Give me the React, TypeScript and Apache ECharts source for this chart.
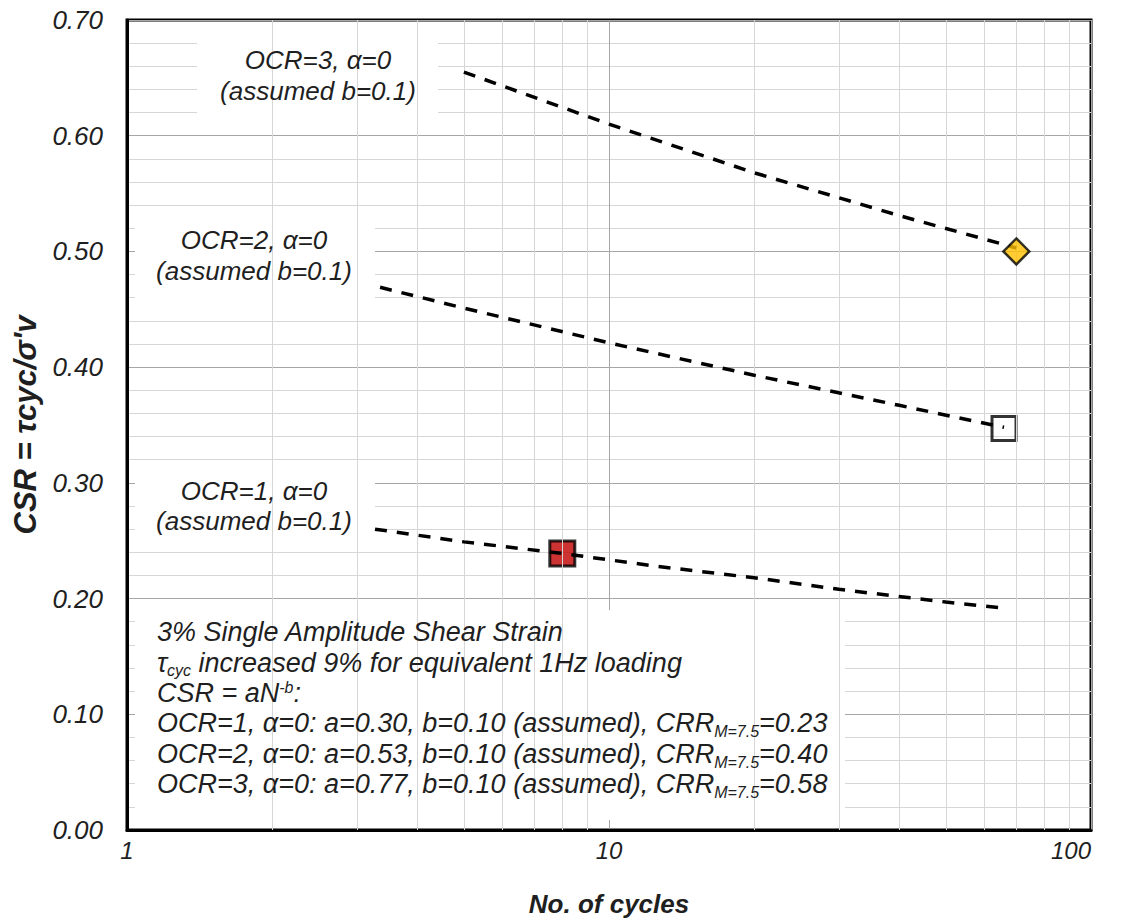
import React, { useEffect, useRef } from "react";
import * as echarts from "echarts";

// ---- data ----
const xTickLabels = ["1", "10", "100"];
const yTickLabels = ["0.00", "0.10", "0.20", "0.30", "0.40", "0.50", "0.60", "0.70"];
const minorXValues = [2, 3, 4, 5, 6, 7, 8, 9, 20, 30, 40, 50, 60, 70, 80, 90];

const ocr1Curve: [number, number][] = [
  [3.27, 0.26], [5, 0.249], [8, 0.239], [12.5, 0.228], [20, 0.218], [30, 0.208], [50, 0.197], [65, 0.192],
];
const ocr2Curve: [number, number][] = [
  [3.35, 0.469], [5, 0.451], [10, 0.421], [20, 0.393], [40, 0.367], [66, 0.348],
];
const ocr3Curve: [number, number][] = [
  [5, 0.655], [10, 0.61], [20, 0.568], [40, 0.531], [70, 0.503],
];
const ocr1Point: [number, number][] = [[8, 0.239]];
const ocr2Point: [number, number][] = [[66, 0.347]];
const ocr3Point: [number, number][] = [[70, 0.5]];

const ocrValues = ["1", "2", "3"];
const aValues = ["0.30", "0.53", "0.77"];
const bValues = ["0.10", "0.10", "0.10"];
const crrValues = ["0.23", "0.40", "0.58"];

const FONT = '"Liberation Sans", Arial, Helvetica, sans-serif';
const TEXT = "#1f1f1f";

function curveLabel(ocr: string) {
  return `OCR=${ocr}, α=0\n(assumed b=0.1)`;
}

const noteLines = [
  "{n|3% Single Amplitude Shear Strain}",
  "{n|τ}{sub|cyc}{n| increased 9% for equivalent 1Hz loading}",
  "{n|CSR = aN}{sup|-b}{n|:}",
  ...ocrValues.map(
    (o, i) =>
      `{n|OCR=${o}, α=0: a=${aValues[i]}, b=${bValues[i]} (assumed), CRR}{sub|M=7.5}{n|=${crrValues[i]}}`
  ),
];

const tok = (size: number) => ({
  fontSize: size,
  fontStyle: "italic",
  fontFamily: FONT,
  fill: TEXT,
});

export default function App() {
  const ref = useRef<HTMLDivElement>(null);
  useEffect(() => {
    document.body.style.margin = "0";
    const chart = echarts.init(ref.current!, null, { renderer: "svg" });
    const dashed = { color: "#000", width: 3.5, type: [12, 10] as number[] };
    const option: any = {
      animation: false,
      backgroundColor: "#fff",
      textStyle: { fontFamily: FONT },
      grid: {
        left: 127, right: 30, top: 20, bottom: 94,
        show: true, borderColor: "#000", borderWidth: 3, backgroundColor: "#fff",
      },
      xAxis: {
        type: "log", logBase: 10, min: 1, max: 100,
        name: "No. of cycles", nameLocation: "middle", nameGap: 61,
        nameTextStyle: { fontSize: 26, fontWeight: "bold", fontStyle: "italic", color: TEXT, fontFamily: FONT },
        axisLine: { show: true, lineStyle: { color: "#000", width: 3 } },
        axisTick: { show: false },
        axisLabel: {
          fontSize: 24, fontStyle: "italic", color: TEXT, margin: 8, fontFamily: FONT,
          alignMaxLabel: "right",
          formatter: (v: number) => xTickLabels[Math.round(Math.log10(v))] ?? String(v),
        },
        splitLine: { show: true, lineStyle: { color: "#A6A6A6", width: 1 } },
      },
      yAxis: {
        type: "value", min: 0, max: 0.7, interval: 0.1,
        name: "CSR = τcyc/σ'v", nameLocation: "middle", nameGap: 82, nameRotate: 90,
        nameTextStyle: { fontSize: 31, fontWeight: "bold", fontStyle: "italic", color: TEXT, fontFamily: FONT },
        axisLine: { show: true, lineStyle: { color: "#000", width: 3 } },
        axisTick: { show: false },
        minorTick: { show: false, splitNumber: 5 },
        minorSplitLine: { show: true, lineStyle: { color: "#D6D6D6", width: 1 } },
        axisLabel: {
          fontSize: 26, fontStyle: "italic", color: TEXT, margin: 24, fontFamily: FONT,
          formatter: (v: number) => yTickLabels[Math.round(v * 10)] ?? v.toFixed(2),
        },
        splitLine: { show: true, lineStyle: { color: "#A6A6A6", width: 1 } },
      },
      graphic: [
        // white label boxes (hide the grid like the reference)
        { type: "rect", z: 1, shape: { x: 197, y: 22, width: 241, height: 103 }, style: { fill: "#fff" }, silent: true },
        { type: "rect", z: 1, shape: { x: 135, y: 213, width: 240, height: 92 }, style: { fill: "#fff" }, silent: true },
        { type: "rect", z: 1, shape: { x: 135, y: 463, width: 240, height: 82 }, style: { fill: "#fff" }, silent: true },
        { type: "rect", z: 1, shape: { x: 135, y: 610, width: 710, height: 210 }, style: { fill: "#fff" }, silent: true },
        {
          type: "text", z: 20, x: 318, y: 44.5, silent: true,
          style: { text: curveLabel("3"), ...tok(26), align: "center", verticalAlign: "top", lineHeight: 31 },
        },
        {
          type: "text", z: 20, x: 254, y: 224.5, silent: true,
          style: { text: curveLabel("2"), ...tok(26), align: "center", verticalAlign: "top", lineHeight: 31 },
        },
        {
          type: "text", z: 20, x: 254, y: 475.5, silent: true,
          style: { text: curveLabel("1"), ...tok(26), align: "center", verticalAlign: "top", lineHeight: 30 },
        },
        {
          type: "text", z: 20, x: 157, y: 617, silent: true,
          style: {
            text: noteLines.join("\n"),
            ...tok(27),
            align: "left", verticalAlign: "top", lineHeight: 30.4,
            rich: {
              n: { ...tok(27), lineHeight: 30.4, verticalAlign: "middle" },
              sub: { ...tok(16), height: 14, verticalAlign: "bottom" },
              sup: { ...tok(16), height: 20, verticalAlign: "top" },
            },
          },
        },
      ],
      series: [
        {
          name: "minor-x-grid", type: "line", data: [], z: 0.5, silent: true,
          markLine: {
            silent: true, symbol: ["none", "none"], label: { show: false }, animation: false,
            lineStyle: { color: "#D6D6D6", width: 1, type: "solid" },
            emphasis: { disabled: true },
            data: minorXValues.map((v) => ({ xAxis: v })),
          },
        },
        { name: "OCR=1 pt", type: "scatter", data: ocr1Point, z: 4, symbol: "rect", symbolSize: 25,
          itemStyle: { color: "#C00000", borderColor: "#000", borderWidth: 3 } },
        { name: "OCR=2 pt", type: "scatter", data: ocr2Point, z: 4, symbol: "rect", symbolSize: 24,
          itemStyle: { color: "rgba(255,255,255,0)", borderColor: "#000", borderWidth: 3 } },
        { name: "OCR=1", type: "line", data: ocr1Curve, z: 5, showSymbol: false, symbol: "none", lineStyle: dashed },
        { name: "OCR=2", type: "line", data: ocr2Curve, z: 5, showSymbol: false, symbol: "none", lineStyle: dashed },
        { name: "OCR=3", type: "line", data: ocr3Curve, z: 5, showSymbol: false, symbol: "none", lineStyle: dashed },
        { name: "OCR=3 pt", type: "scatter", data: ocr3Point, z: 6, symbol: "diamond", symbolSize: 26,
          itemStyle: { color: "#FFC000", borderColor: "#000", borderWidth: 2.5 } },
      ],
    };
    chart.setOption(option);
    return () => chart.dispose();
  }, []);
  return <div ref={ref} style={{ width: 1121, height: 924 }} />;
}
